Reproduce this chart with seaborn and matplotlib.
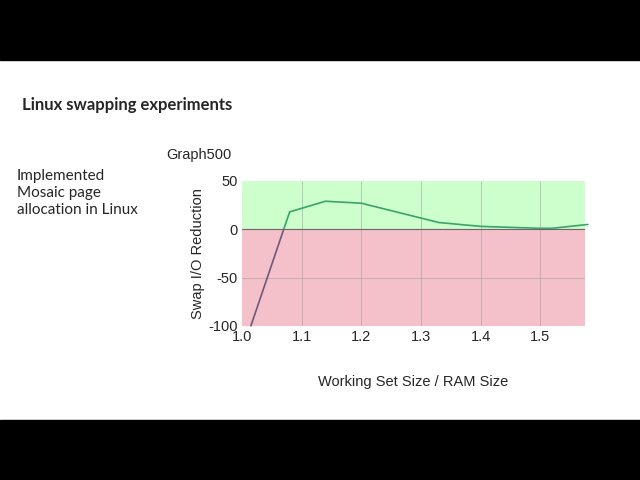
import matplotlib
matplotlib.use("Agg")
import matplotlib.pyplot as plt
import seaborn as sns
import pandas as pd
from matplotlib.patches import Rectangle

# Daten
ratio = [1.015, 1.08, 1.14, 1.2, 1.33, 1.4, 1.5, 1.52, 1.58]
reduktion = [-100, 18, 29, 27, 7, 3, 1, 1, 5]
xticks = [1.0, 1.1, 1.2, 1.3, 1.4, 1.5]
yticks = [-100, -50, 0, 50]

df = pd.DataFrame({"ratio": ratio, "reduktion": reduktion})

sns.set_style("white")
plt.rcParams["font.family"] = ["Liberation Sans", "DejaVu Sans"]

fig = plt.figure(figsize=(6.4, 4.8), dpi=100)
fig.patches.append(Rectangle((0, 0), 1, 60 / 480, transform=fig.transFigure, color="black"))
fig.patches.append(Rectangle((0, 420 / 480), 1, 60 / 480, transform=fig.transFigure, color="black"))

ax = fig.add_axes([0.378, 0.321, 0.536, 0.302])
ax.axhspan(0, 50, color="#ccffcc", zorder=0)
ax.axhspan(-100, 0, color="#f4c0ca", zorder=0)
for x in xticks[1:]:
    ax.axvline(x, color="#9a9a9a", lw=0.6, alpha=0.6, zorder=1)
ax.axhline(-50, color="#9a9a9a", lw=0.6, alpha=0.6, zorder=1)
ax.axhline(0, color="#6a6a6a", lw=0.8, zorder=1)

# Linie oben gruen, unten dunkel
l1 = sns.lineplot(data=df, x="ratio", y="reduktion", ax=ax, color="#3aa36a", lw=1.2, zorder=3).lines[-1]
l1.set_clip_path(Rectangle((0.9, 0), 1, 100, transform=ax.transData))
l2 = sns.lineplot(data=df, x="ratio", y="reduktion", ax=ax, color="#6b5b7b", lw=1.2, zorder=3).lines[-1]
l2.set_clip_path(Rectangle((0.9, -200), 1, 200, transform=ax.transData))

ax.set_xlim(1.0, 1.575)
ax.set_ylim(-100, 50)
ax.set_xticks(xticks)
ax.set_xticklabels([f"{t:.1f}" for t in xticks], fontsize=10.5)
ax.set_yticks(yticks)
ax.set_yticklabels([str(t) for t in yticks], fontsize=10.5)
ax.tick_params(length=0, pad=3)
for s in ax.spines.values():
    s.set_visible(False)
ax.set_xlabel("Working Set Size / RAM Size", fontsize=10.5, labelpad=22)
ax.set_ylabel("Swap I/O Reduction", fontsize=10.5, labelpad=2)

fig.text(166 / 640, 1 - 155 / 480, "Graph500", fontsize=10.5, va="center")
fig.text(22 / 640, 1 - 105 / 480, "Linux swapping experiments", fontsize=12,
         fontweight="bold", va="center", family=["Lato", "DejaVu Sans"])
fig.text(17 / 640, 1 - 193 / 480, "Implemented\nMosaic page\nallocation in Linux", fontsize=11,
         va="center", linespacing=1.3, family=["Lato", "DejaVu Sans"])

fig.savefig("out.png", dpi=100)
